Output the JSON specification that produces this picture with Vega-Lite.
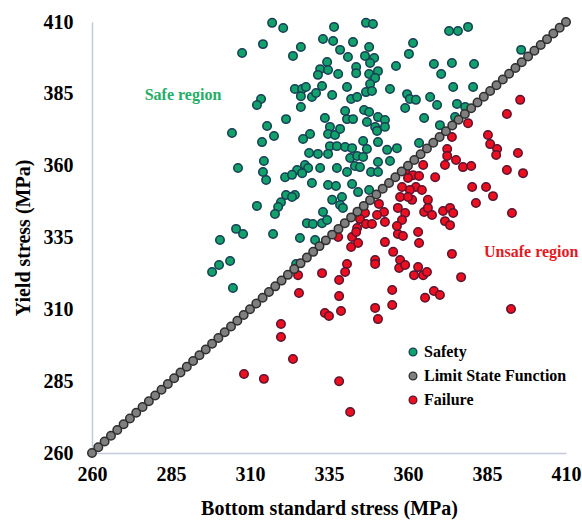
{
  "$schema": "https://vega.github.io/schema/vega-lite/v6.json",
  "width": 474,
  "height": 431,
  "autosize": {"type": "none"},
  "padding": {"left": 92, "top": 22, "right": 16, "bottom": 70},
  "config": {
    "view": {"stroke": null},
    "font": "Liberation Serif",
    "axis": {
      "grid": false,
      "ticks": false,
      "tickSize": 0,
      "domainColor": "#c3c9d8",
      "domainWidth": 1.5,
      "labelFont": "Liberation Serif",
      "labelFontSize": 20,
      "labelFontWeight": "bold",
      "labelColor": "#000000",
      "titleFont": "Liberation Serif",
      "titleFontSize": 20,
      "titleFontWeight": "bold",
      "titleColor": "#000000"
    }
  },
  "datasets": {
    "pts": [
      {"x":317.0,"y":409.7,"type":"Safety"},{"x":320.5,"y":407.9,"type":"Safety"},{"x":314.1,"y":402.3,"type":"Safety"},{"x":307.5,"y":399.2,"type":"Safety"},{"x":313.5,"y":383.2,"type":"Safety"},{"x":312.2,"y":381.1,"type":"Safety"},{"x":321.4,"y":376.2,"type":"Safety"},{"x":304.3,"y":371.4,"type":"Safety"},{"x":315.4,"y":373.8,"type":"Safety"},{"x":317.6,"y":370.3,"type":"Safety"},{"x":313.8,"y":368.2,"type":"Safety"},{"x":314.4,"y":361.6,"type":"Safety"},{"x":306.2,"y":359.2,"type":"Safety"},{"x":314.1,"y":357.8,"type":"Safety"},{"x":315.1,"y":355.0,"type":"Safety"},{"x":321.1,"y":356.0,"type":"Safety"},{"x":321.4,"y":349.8,"type":"Safety"},{"x":319.8,"y":347.3,"type":"Safety"},{"x":318.9,"y":345.6,"type":"Safety"},{"x":312.2,"y":346.0,"type":"Safety"},{"x":317.9,"y":343.2,"type":"Safety"},{"x":305.6,"y":338.0,"type":"Safety"},{"x":307.8,"y":336.2,"type":"Safety"},{"x":300.5,"y":334.1,"type":"Safety"},{"x":317.3,"y":336.2,"type":"Safety"},{"x":303.7,"y":326.8,"type":"Safety"},{"x":300.2,"y":325.4,"type":"Safety"},{"x":298.0,"y":323.0,"type":"Safety"},{"x":304.6,"y":317.4,"type":"Safety"},
      {"x":336.6,"y":408.3,"type":"Safety"},{"x":346.7,"y":409.7,"type":"Safety"},{"x":348.9,"y":409.3,"type":"Safety"},{"x":326.1,"y":401.3,"type":"Safety"},{"x":333.1,"y":404.1,"type":"Safety"},{"x":336.3,"y":403.4,"type":"Safety"},{"x":342.6,"y":403.0,"type":"Safety"},{"x":347.7,"y":401.3,"type":"Safety"},{"x":323.6,"y":398.2,"type":"Safety"},{"x":338.5,"y":400.3,"type":"Safety"},{"x":341.0,"y":397.8,"type":"Safety"},{"x":346.4,"y":398.2,"type":"Safety"},{"x":349.3,"y":397.5,"type":"Safety"},{"x":356.2,"y":394.7,"type":"Safety"},{"x":348.0,"y":395.7,"type":"Safety"},{"x":334.4,"y":396.1,"type":"Safety"},{"x":332.2,"y":393.6,"type":"Safety"},{"x":334.7,"y":393.3,"type":"Safety"},{"x":331.5,"y":391.6,"type":"Safety"},{"x":337.9,"y":391.9,"type":"Safety"},{"x":343.6,"y":394.3,"type":"Safety"},{"x":343.6,"y":392.2,"type":"Safety"},{"x":347.7,"y":391.9,"type":"Safety"},{"x":350.5,"y":392.9,"type":"Safety"},{"x":349.6,"y":390.5,"type":"Safety"},{"x":348.0,"y":388.4,"type":"Safety"},{"x":324.2,"y":386.7,"type":"Safety"},{"x":326.5,"y":386.7,"type":"Safety"},{"x":327.7,"y":387.4,"type":"Safety"},{"x":326.1,"y":384.2,"type":"Safety"},{"x":329.6,"y":383.9,"type":"Safety"},{"x":330.9,"y":385.3,"type":"Safety"},{"x":332.8,"y":387.7,"type":"Safety"},{"x":336.0,"y":384.6,"type":"Safety"},{"x":340.7,"y":387.4,"type":"Safety"},{"x":346.7,"y":385.6,"type":"Safety"},{"x":348.6,"y":386.0,"type":"Safety"},{"x":354.3,"y":386.7,"type":"Safety"},{"x":326.1,"y":380.4,"type":"Safety"},{"x":342.0,"y":383.2,"type":"Safety"},{"x":343.9,"y":383.9,"type":"Safety"},{"x":333.7,"y":376.6,"type":"Safety"},{"x":340.1,"y":379.0,"type":"Safety"},{"x":346.1,"y":379.4,"type":"Safety"},{"x":347.7,"y":378.7,"type":"Safety"},{"x":350.5,"y":376.9,"type":"Safety"},{"x":352.7,"y":375.9,"type":"Safety"},{"x":340.7,"y":376.2,"type":"Safety"},{"x":342.6,"y":376.2,"type":"Safety"},{"x":347.0,"y":375.2,"type":"Safety"},
      {"x":329.0,"y":371.0,"type":"Safety"},{"x":326.8,"y":369.3,"type":"Safety"},{"x":335.3,"y":373.5,"type":"Safety"},{"x":334.7,"y":371.0,"type":"Safety"},{"x":336.9,"y":370.7,"type":"Safety"},{"x":338.5,"y":372.8,"type":"Safety"},{"x":349.6,"y":373.5,"type":"Safety"},{"x":350.2,"y":372.1,"type":"Safety"},{"x":352.7,"y":373.5,"type":"Safety"},{"x":345.8,"y":368.6,"type":"Safety"},{"x":350.5,"y":368.2,"type":"Safety"},{"x":335.3,"y":366.8,"type":"Safety"},{"x":337.5,"y":366.8,"type":"Safety"},{"x":340.1,"y":366.5,"type":"Safety"},{"x":342.3,"y":366.1,"type":"Safety"},{"x":347.0,"y":365.8,"type":"Safety"},{"x":353.4,"y":365.5,"type":"Safety"},{"x":356.5,"y":366.1,"type":"Safety"},{"x":328.7,"y":364.4,"type":"Safety"},{"x":331.5,"y":364.1,"type":"Safety"},{"x":334.7,"y":364.1,"type":"Safety"},{"x":341.7,"y":362.7,"type":"Safety"},{"x":343.9,"y":363.4,"type":"Safety"},{"x":345.8,"y":363.0,"type":"Safety"},{"x":350.5,"y":361.3,"type":"Safety"},{"x":354.3,"y":361.6,"type":"Safety"},{"x":327.4,"y":360.2,"type":"Safety"},{"x":328.4,"y":359.2,"type":"Safety"},{"x":324.9,"y":358.5,"type":"Safety"},{"x":326.5,"y":357.4,"type":"Safety"},{"x":323.3,"y":356.8,"type":"Safety"},{"x":332.2,"y":359.2,"type":"Safety"},{"x":337.5,"y":359.2,"type":"Safety"},{"x":340.7,"y":357.8,"type":"Safety"},{"x":343.2,"y":359.9,"type":"Safety"},{"x":344.8,"y":359.5,"type":"Safety"},{"x":348.3,"y":357.8,"type":"Safety"},{"x":350.5,"y":357.8,"type":"Safety"},{"x":329.6,"y":354.0,"type":"Safety"},{"x":324.2,"y":349.8,"type":"Safety"},{"x":323.3,"y":349.1,"type":"Safety"},{"x":334.7,"y":353.3,"type":"Safety"},{"x":337.2,"y":352.9,"type":"Safety"},{"x":342.3,"y":353.6,"type":"Safety"},{"x":344.2,"y":350.8,"type":"Safety"},{"x":347.7,"y":351.5,"type":"Safety"},{"x":339.1,"y":349.1,"type":"Safety"},{"x":336.0,"y":348.1,"type":"Safety"},{"x":338.5,"y":346.3,"type":"Safety"},{"x":339.4,"y":345.3,"type":"Safety"},{"x":333.1,"y":343.9,"type":"Safety"},{"x":328.0,"y":340.0,"type":"Safety"},{"x":329.9,"y":339.7,"type":"Safety"},{"x":332.8,"y":340.0,"type":"Safety"},{"x":334.4,"y":341.1,"type":"Safety"},{"x":325.8,"y":334.8,"type":"Safety"},{"x":330.6,"y":334.1,"type":"Safety"},{"x":324.6,"y":325.8,"type":"Safety"},
      {"x":373.0,"y":406.9,"type":"Safety"},{"x":375.8,"y":406.9,"type":"Safety"},{"x":379.0,"y":408.3,"type":"Safety"},{"x":361.6,"y":402.7,"type":"Safety"},{"x":360.3,"y":398.9,"type":"Safety"},{"x":395.8,"y":400.3,"type":"Safety"},{"x":368.2,"y":395.4,"type":"Safety"},{"x":373.9,"y":395.7,"type":"Safety"},{"x":380.9,"y":395.4,"type":"Safety"},{"x":370.5,"y":391.9,"type":"Safety"},{"x":359.7,"y":384.9,"type":"Safety"},{"x":360.6,"y":383.2,"type":"Safety"},{"x":362.5,"y":382.9,"type":"Safety"},{"x":367.0,"y":383.9,"type":"Safety"},{"x":359.1,"y":380.1,"type":"Safety"},{"x":369.2,"y":381.1,"type":"Safety"},{"x":374.3,"y":387.4,"type":"Safety"},{"x":380.6,"y":387.4,"type":"Safety"},{"x":375.5,"y":381.5,"type":"Safety"},{"x":378.1,"y":380.4,"type":"Safety"},{"x":365.1,"y":376.6,"type":"Safety"},{"x":374.9,"y":376.9,"type":"Safety"},{"x":370.1,"y":374.1,"type":"Safety"},{"x":363.5,"y":367.9,"type":"Safety"},
      {"x":395.5,"y":382.9,"type":"Failure"},{"x":391.3,"y":378.0,"type":"Failure"},{"x":379.0,"y":374.8,"type":"Failure"},{"x":373.9,"y":370.0,"type":"Failure"},{"x":385.3,"y":370.7,"type":"Failure"},{"x":386.0,"y":367.5,"type":"Failure"},{"x":388.2,"y":365.8,"type":"Failure"},{"x":387.9,"y":363.7,"type":"Failure"},{"x":372.4,"y":365.8,"type":"Failure"},{"x":372.4,"y":363.4,"type":"Failure"},{"x":375.2,"y":362.0,"type":"Failure"},{"x":371.7,"y":360.2,"type":"Failure"},{"x":377.4,"y":359.5,"type":"Failure"},{"x":380.0,"y":359.9,"type":"Failure"},{"x":394.8,"y":364.4,"type":"Failure"},{"x":391.3,"y":358.5,"type":"Failure"},{"x":396.4,"y":357.4,"type":"Failure"},{"x":364.8,"y":360.2,"type":"Failure"},{"x":368.6,"y":356.0,"type":"Failure"},{"x":361.6,"y":356.7,"type":"Failure"},{"x":363.5,"y":356.4,"type":"Failure"},{"x":362.5,"y":352.6,"type":"Failure"},{"x":360.6,"y":351.5,"type":"Failure"},{"x":364.4,"y":351.5,"type":"Failure"},{"x":380.3,"y":352.6,"type":"Failure"},{"x":384.7,"y":352.6,"type":"Failure"},{"x":386.9,"y":349.4,"type":"Failure"},{"x":381.5,"y":347.0,"type":"Failure"},{"x":366.3,"y":348.1,"type":"Failure"},{"x":361.3,"y":348.1,"type":"Failure"},{"x":392.9,"y":343.5,"type":"Failure"},{"x":365.1,"y":343.9,"type":"Failure"},{"x":366.3,"y":345.3,"type":"Failure"},{"x":367.6,"y":342.8,"type":"Failure"},{"x":371.1,"y":344.2,"type":"Failure"},{"x":373.3,"y":345.3,"type":"Failure"},{"x":374.3,"y":343.5,"type":"Failure"},{"x":371.7,"y":340.7,"type":"Failure"},{"x":373.3,"y":339.3,"type":"Failure"},{"x":363.2,"y":336.9,"type":"Failure"},{"x":359.1,"y":358.1,"type":"Failure"},{"x":360.0,"y":355.7,"type":"Failure"},{"x":358.1,"y":352.6,"type":"Failure"},{"x":357.5,"y":349.1,"type":"Failure"},{"x":360.0,"y":349.1,"type":"Failure"},{"x":356.8,"y":345.3,"type":"Failure"},{"x":359.1,"y":343.5,"type":"Failure"},{"x":358.1,"y":341.1,"type":"Failure"},{"x":350.8,"y":346.7,"type":"Failure"},{"x":352.4,"y":343.9,"type":"Failure"},{"x":350.2,"y":342.8,"type":"Failure"},{"x":346.4,"y":343.5,"type":"Failure"},{"x":344.8,"y":341.4,"type":"Failure"},{"x":346.7,"y":339.7,"type":"Failure"},{"x":348.6,"y":339.7,"type":"Failure"},{"x":352.7,"y":340.4,"type":"Failure"},{"x":343.9,"y":338.3,"type":"Failure"},{"x":337.9,"y":335.2,"type":"Failure"},{"x":342.3,"y":335.2,"type":"Failure"},{"x":343.6,"y":336.9,"type":"Failure"},{"x":342.0,"y":331.7,"type":"Failure"},{"x":344.2,"y":333.1,"type":"Failure"},{"x":352.7,"y":333.4,"type":"Failure"},{"x":356.8,"y":336.2,"type":"Failure"},{"x":358.4,"y":335.5,"type":"Failure"},{"x":363.5,"y":333.1,"type":"Failure"},{"x":355.3,"y":330.0,"type":"Failure"},{"x":373.9,"y":329.3,"type":"Failure"},{"x":349.6,"y":327.2,"type":"Failure"},{"x":349.6,"y":325.8,"type":"Failure"},{"x":357.5,"y":327.2,"type":"Failure"},{"x":357.2,"y":324.4,"type":"Failure"},{"x":359.1,"y":325.4,"type":"Failure"},{"x":363.2,"y":324.7,"type":"Failure"},{"x":361.9,"y":321.9,"type":"Failure"},{"x":364.8,"y":321.9,"type":"Failure"},{"x":366.0,"y":323.0,"type":"Failure"},{"x":340.7,"y":325.8,"type":"Failure"},{"x":340.1,"y":323.0,"type":"Failure"},{"x":338.2,"y":320.2,"type":"Failure"},{"x":376.8,"y":321.2,"type":"Failure"},{"x":355.0,"y":316.7,"type":"Failure"},{"x":368.2,"y":316.4,"type":"Failure"},{"x":370.1,"y":315.0,"type":"Failure"},{"x":365.4,"y":314.0,"type":"Failure"},{"x":338.2,"y":314.6,"type":"Failure"},{"x":355.0,"y":311.5,"type":"Failure"},{"x":349.6,"y":310.5,"type":"Failure"},{"x":350.5,"y":306.6,"type":"Failure"},{"x":338.8,"y":309.4,"type":"Failure"},{"x":333.7,"y":308.7,"type":"Failure"},{"x":335.0,"y":307.7,"type":"Failure"},{"x":392.6,"y":310.1,"type":"Failure"},{"x":338.2,"y":285.0,"type":"Failure"},{"x":341.7,"y":274.3,"type":"Failure"},{"x":332.8,"y":322.6,"type":"Failure"},{"x":325.2,"y":321.9,"type":"Failure"},{"x":325.5,"y":315.7,"type":"Failure"},{"x":319.8,"y":304.9,"type":"Failure"},{"x":319.8,"y":300.4,"type":"Failure"},{"x":323.6,"y":292.7,"type":"Failure"},{"x":308.1,"y":287.5,"type":"Failure"},{"x":314.4,"y":285.8,"type":"Failure"},{"x":356.5,"y":339.0,"type":"Failure"}
    ],
    "lsf": [
      {"x":260,"y":260,"type":"Limit State Function"},{"x":262,"y":262,"type":"Limit State Function"},{"x":264,"y":264,"type":"Limit State Function"},{"x":266,"y":266,"type":"Limit State Function"},{"x":268,"y":268,"type":"Limit State Function"},{"x":270,"y":270,"type":"Limit State Function"},{"x":272,"y":272,"type":"Limit State Function"},{"x":274,"y":274,"type":"Limit State Function"},{"x":276,"y":276,"type":"Limit State Function"},{"x":278,"y":278,"type":"Limit State Function"},{"x":280,"y":280,"type":"Limit State Function"},{"x":282,"y":282,"type":"Limit State Function"},{"x":284,"y":284,"type":"Limit State Function"},{"x":286,"y":286,"type":"Limit State Function"},{"x":288,"y":288,"type":"Limit State Function"},{"x":290,"y":290,"type":"Limit State Function"},{"x":292,"y":292,"type":"Limit State Function"},{"x":294,"y":294,"type":"Limit State Function"},{"x":296,"y":296,"type":"Limit State Function"},{"x":298,"y":298,"type":"Limit State Function"},{"x":300,"y":300,"type":"Limit State Function"},{"x":302,"y":302,"type":"Limit State Function"},{"x":304,"y":304,"type":"Limit State Function"},{"x":306,"y":306,"type":"Limit State Function"},{"x":308,"y":308,"type":"Limit State Function"},{"x":310,"y":310,"type":"Limit State Function"},{"x":312,"y":312,"type":"Limit State Function"},{"x":314,"y":314,"type":"Limit State Function"},{"x":316,"y":316,"type":"Limit State Function"},{"x":318,"y":318,"type":"Limit State Function"},{"x":320,"y":320,"type":"Limit State Function"},{"x":322,"y":322,"type":"Limit State Function"},{"x":324,"y":324,"type":"Limit State Function"},{"x":326,"y":326,"type":"Limit State Function"},{"x":328,"y":328,"type":"Limit State Function"},{"x":330,"y":330,"type":"Limit State Function"},{"x":332,"y":332,"type":"Limit State Function"},{"x":334,"y":334,"type":"Limit State Function"},{"x":336,"y":336,"type":"Limit State Function"},{"x":338,"y":338,"type":"Limit State Function"},{"x":340,"y":340,"type":"Limit State Function"},{"x":342,"y":342,"type":"Limit State Function"},{"x":344,"y":344,"type":"Limit State Function"},{"x":346,"y":346,"type":"Limit State Function"},{"x":348,"y":348,"type":"Limit State Function"},{"x":350,"y":350,"type":"Limit State Function"},{"x":352,"y":352,"type":"Limit State Function"},{"x":354,"y":354,"type":"Limit State Function"},{"x":356,"y":356,"type":"Limit State Function"},{"x":358,"y":358,"type":"Limit State Function"},{"x":360,"y":360,"type":"Limit State Function"},{"x":362,"y":362,"type":"Limit State Function"},{"x":364,"y":364,"type":"Limit State Function"},{"x":366,"y":366,"type":"Limit State Function"},{"x":368,"y":368,"type":"Limit State Function"},{"x":370,"y":370,"type":"Limit State Function"},{"x":372,"y":372,"type":"Limit State Function"},{"x":374,"y":374,"type":"Limit State Function"},{"x":376,"y":376,"type":"Limit State Function"},{"x":378,"y":378,"type":"Limit State Function"},{"x":380,"y":380,"type":"Limit State Function"},{"x":382,"y":382,"type":"Limit State Function"},{"x":384,"y":384,"type":"Limit State Function"},{"x":386,"y":386,"type":"Limit State Function"},{"x":388,"y":388,"type":"Limit State Function"},{"x":390,"y":390,"type":"Limit State Function"},{"x":392,"y":392,"type":"Limit State Function"},{"x":394,"y":394,"type":"Limit State Function"},{"x":396,"y":396,"type":"Limit State Function"},{"x":398,"y":398,"type":"Limit State Function"},{"x":400,"y":400,"type":"Limit State Function"},{"x":402,"y":402,"type":"Limit State Function"},{"x":404,"y":404,"type":"Limit State Function"},{"x":406,"y":406,"type":"Limit State Function"},{"x":408,"y":408,"type":"Limit State Function"},{"x":410,"y":410,"type":"Limit State Function"}
    ],
    "notes": [
      {"x":288.8,"y":384.6,"label":"Safe region","kind":"safe"},
      {"x":399.0,"y":330.0,"label":"Unsafe region","kind":"unsafe"}
    ]
  },
  "encoding": {
    "x": {
      "field": "x", "type": "quantitative",
      "scale": {"domain": [260, 410], "nice": false, "zero": false},
      "axis": {"values": [260, 285, 310, 335, 360, 385, 410], "title": "Bottom standard stress (MPa)", "labelPadding": 11, "titlePadding": 14, "labelFlush": false}
    },
    "y": {
      "field": "y", "type": "quantitative",
      "scale": {"domain": [260, 410], "nice": false, "zero": false},
      "axis": {"values": [260, 285, 310, 335, 360, 385, 410], "title": "Yield stress (MPa)", "labelPadding": 19, "titlePadding": 10, "labelFlush": false}
    }
  },
  "layer": [
    {
      "data": {"name": "pts"},
      "mark": {"type": "point", "filled": true, "size": 72, "strokeWidth": 1.5, "opacity": 1, "fillOpacity": 1},
      "encoding": {
        "fill": {"field": "type", "type": "nominal",
          "scale": {"domain": ["Safety", "Limit State Function", "Failure"], "range": ["#12a06b", "#7f7f7f", "#ec0f1f"]},
          "legend": {"orient": "none", "legendX": 313, "legendY": 322, "title": null, "padding": 0, "symbolType": "circle", "symbolSize": 60, "symbolStrokeWidth": 1.3, "labelFont": "Liberation Serif", "labelFontSize": 16, "labelFontWeight": "bold", "labelColor": "#000000", "rowPadding": 8, "labelOffset": 3}},
        "stroke": {"field": "type", "type": "nominal",
          "scale": {"domain": ["Safety", "Limit State Function", "Failure"], "range": ["#163e55", "#2e2e2e", "#5a1430"]},
          "legend": {"orient": "none", "legendX": 313, "legendY": 322, "title": null, "padding": 0, "symbolType": "circle", "symbolSize": 60, "symbolStrokeWidth": 1.3, "labelFont": "Liberation Serif", "labelFontSize": 16, "labelFontWeight": "bold", "labelColor": "#000000", "rowPadding": 8, "labelOffset": 3}}
      }
    },
    {
      "data": {"name": "lsf"},
      "mark": {"type": "point", "filled": true, "size": 72, "strokeWidth": 1.5, "opacity": 1, "fillOpacity": 1},
      "encoding": {
        "fill": {"field": "type", "type": "nominal"},
        "stroke": {"field": "type", "type": "nominal"}
      }
    },
    {
      "data": {"name": "notes"},
      "mark": {"type": "text", "font": "Liberation Serif", "fontSize": 16, "fontWeight": "bold", "align": "center", "baseline": "middle"},
      "encoding": {
        "text": {"field": "label"},
        "color": {"field": "kind", "type": "nominal", "scale": {"domain": ["safe", "unsafe"], "range": ["#25ad68", "#e3191f"]}, "legend": null}
      }
    }
  ]
}
